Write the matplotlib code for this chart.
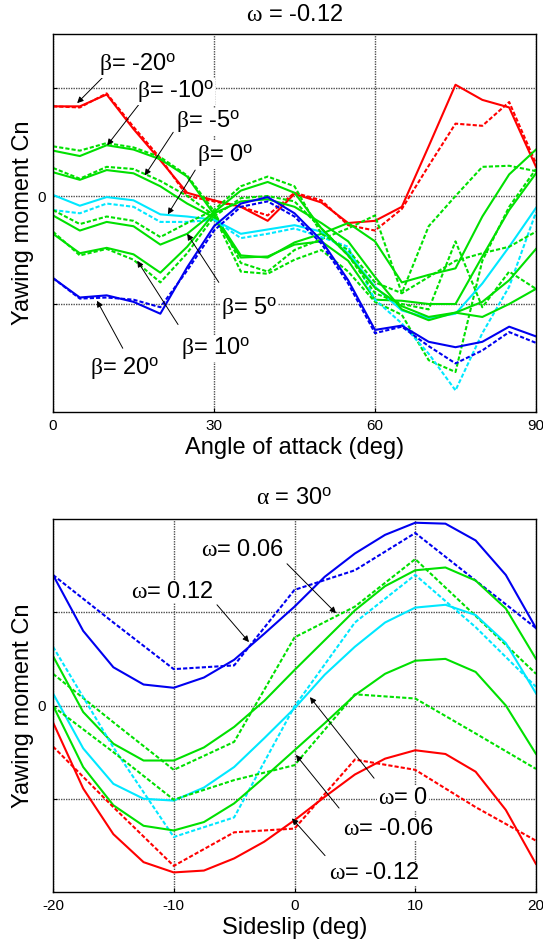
import numpy as np
import matplotlib
matplotlib.use('Agg')
import matplotlib.pyplot as plt

plt.rcParams['font.family'] = ['Liberation Sans', 'DejaVu Sans']
plt.rcParams['mathtext.fontset'] = 'custom'
plt.rcParams['mathtext.rm'] = 'Liberation Sans'
plt.rcParams['mathtext.it'] = 'Liberation Serif'
plt.rcParams['mathtext.bf'] = 'Liberation Sans:bold'
plt.rcParams['axes.unicode_minus'] = False

RED, GREEN, CYAN, BLUE = '#ff0000', '#00e000', '#00e8ff', '#0000f0'

# ---- top panel: omega = -0.12, Cn vs angle of attack ----
alpha = [0, 5, 10, 15, 20, 25, 30, 35, 40, 45, 50, 55, 60, 65, 70, 75, 80, 85, 90]

top_solid = {
    -20: [0.83, 0.83, 0.94, 0.62, 0.33, 0.03, -0.04, -0.10, -0.23, 0.02, -0.06, -0.25, -0.23, -0.10, 0.46, 1.03, 0.89, 0.82, 0.27],
    -10: [0.42, 0.37, 0.47, 0.43, 0.34, 0.18, -0.17, -0.55, -0.57, -0.43, -0.35, -0.25, -0.42, -0.80, -0.73, -0.67, -0.19, 0.20, 0.43],
    -5:  [0.22, 0.15, 0.24, 0.21, 0.09, -0.07, -0.20, -0.57, -0.56, -0.45, -0.42, -0.60, -0.96, -0.97, -1.00, -1.00, -0.56, -0.13, 0.21],
    0:   [0.01, -0.09, -0.01, -0.04, -0.17, -0.19, -0.22, -0.35, -0.31, -0.27, -0.33, -0.53, -0.84, -1.06, -1.13, -1.09, -0.81, -0.47, -0.11],
    5:   [-0.18, -0.32, -0.24, -0.28, -0.45, -0.35, -0.15, 0.05, 0.13, 0.03, -0.30, -0.55, -0.85, -1.02, -1.12, -1.08, -0.98, -0.78, -0.49],
    10:  [-0.35, -0.53, -0.48, -0.54, -0.71, -0.47, -0.16, -0.05, -0.03, -0.10, -0.25, -0.42, -0.75, -1.05, -1.15, -1.08, -1.12, -1.00, -0.86],
    20:  [-0.76, -0.94, -0.92, -0.98, -1.09, -0.66, -0.28, -0.07, -0.01, -0.16, -0.41, -0.78, -1.24, -1.20, -1.35, -1.40, -1.35, -1.21, -1.30],
}
top_dash = {
    -20: [0.83, 0.82, 0.95, 0.64, 0.35, 0.00, -0.05, -0.10, -0.18, 0.03, -0.04, -0.27, -0.32, -0.12, 0.28, 0.67, 0.65, 0.87, 0.30],
    -10: [0.46, 0.42, 0.49, 0.45, 0.36, 0.19, -0.14, -0.62, -0.70, -0.50, -0.40, -0.30, -0.18, -0.90, -0.28, 0.00, 0.27, 0.28, 0.23],
    -5:  [0.26, 0.16, 0.27, 0.25, 0.14, 0.00, -0.18, -0.70, -0.72, -0.59, -0.50, -0.70, -0.98, -1.10, -1.52, -1.63, -0.60, -0.10, 0.25],
    0:   [-0.13, -0.16, -0.07, -0.10, -0.24, -0.24, -0.22, -0.39, -0.35, -0.30, -0.38, -0.47, -0.96, -1.18, -1.46, -1.80, -1.27, -0.84, -0.15],
    5:   [-0.13, -0.26, -0.19, -0.23, -0.38, -0.25, -0.13, 0.09, 0.18, 0.09, -0.35, -0.50, -0.80, -0.90, -0.75, -0.60, -0.53, -0.47, -0.33],
    10:  [-0.33, -0.55, -0.49, -0.59, -0.80, -0.53, -0.19, -0.02, 0.00, -0.05, -0.30, -0.55, -0.90, -1.00, -1.05, -0.42, -1.03, -0.70, -0.86],
    20:  [-0.76, -0.95, -0.94, -0.96, -1.03, -0.69, -0.32, -0.10, -0.05, -0.19, -0.44, -0.81, -1.27, -1.21, -1.39, -1.55, -1.43, -1.26, -1.36],
}
top_colors = {-20: RED, -10: GREEN, -5: GREEN, 0: CYAN, 5: GREEN, 10: GREEN, 20: BLUE}

# label, text pos, arrow tail, arrow tip (data coords)
top_labels = [
    (-20, (15.8, 1.22), (9.3, 1.10), (4.5, 0.86)),
    (-10, (22.9, 0.97), (16.2, 0.86), (10.1, 0.47)),
    (-5,  (28.9, 0.69), (22.4, 0.59), (17.1, 0.19)),
    (0,   (32.0, 0.38), (26.5, 0.24), (21.4, -0.17)),
    (5,   (36.5, -1.04), (30.9, -0.80), (25.0, -0.35)),
    (10,  (30.4, -1.41), (23.3, -1.19), (15.7, -0.60)),
    (20,  (13.4, -1.59), (13.0, -1.41), (8.2, -0.97)),
]

# ---- bottom panel: alpha = 30 deg, Cn vs sideslip ----
beta_s = [-20, -17.5, -15, -12.5, -10, -7.5, -5, -2.5, 0, 2.5, 5, 7.5, 10, 12.5, 15, 17.5, 20]
beta_d = [-20, -15, -10, -5, 0, 5, 10, 15, 20]

bot_solid = {
    0.12:  [1.40, 0.80, 0.41, 0.225, 0.19, 0.30, 0.49, 0.77, 1.06, 1.38, 1.63, 1.83, 1.96, 1.95, 1.77, 1.40, 0.83],
    0.06:  [0.53, -0.07, -0.41, -0.59, -0.59, -0.45, -0.23, 0.05, 0.38, 0.70, 1.02, 1.28, 1.45, 1.48, 1.34, 1.04, 0.50],
    0.0:   [0.13, -0.46, -0.84, -1.00, -1.02, -0.88, -0.66, -0.35, -0.03, 0.33, 0.63, 0.89, 1.05, 1.08, 0.97, 0.67, 0.13],
    -0.06: [0.00, -0.66, -1.07, -1.29, -1.34, -1.25, -1.05, -0.77, -0.48, -0.19, 0.11, 0.34, 0.48, 0.50, 0.36, 0.00, -0.52],
    -0.12: [-0.18, -0.89, -1.38, -1.68, -1.79, -1.77, -1.64, -1.46, -1.23, -0.98, -0.74, -0.57, -0.48, -0.52, -0.71, -1.12, -1.70],
}
bot_dash = {
    0.12:  [1.40, 0.89, 0.39, 0.43, 1.24, 1.45, 1.85, 1.34, 0.83],
    0.06:  [0.34, -0.18, -0.69, -0.39, 0.73, 1.06, 1.57, 0.96, 0.34],
    0.0:   [0.63, -0.45, -1.41, -1.20, -0.01, 0.89, 1.40, 0.84, 0.20],
    -0.06: [-0.01, -0.50, -1.01, -0.80, -0.64, 0.12, 0.075, -0.30, -0.68],
    -0.12: [-0.44, -1.09, -1.72, -1.36, -1.32, -0.58, -0.69, -1.09, -1.45],
}
bot_colors = {0.12: BLUE, 0.06: GREEN, 0.0: CYAN, -0.06: GREEN, -0.12: RED}

bot_labels = [
    ('0.06',  (-4.35, 1.67), (-0.62, 1.52), (3.44, 0.99)),
    ('0.12',  (-10.15, 1.22), (-6.42, 1.08), (-3.77, 0.68)),
    ('0',     (8.99, -0.99), (6.59, -0.78), (1.28, 0.09)),
    ('-0.06', (7.75, -1.32), (3.69, -1.10), (0.12, -0.53)),
    ('-0.12', (6.59, -1.80), (2.53, -1.61), (-0.21, -1.21)),
]

W, H = 543, 947
fig = plt.figure(figsize=(W / 100, H / 100), dpi=100)
ax1 = fig.add_axes([53 / W, 1 - 412 / H, 483 / W, 378 / H])
ax2 = fig.add_axes([53 / W, 1 - 892 / H, 483 / W, 373 / H])

LW = 1.5
DASH = (2.0, 1.0)
FS = 17
box = dict(facecolor='white', edgecolor='none', pad=0.5)
arrow = dict(arrowstyle='-|>', color='black', lw=0.7, mutation_scale=9, shrinkA=0, shrinkB=0)


def style_axes(ax):
    ax.grid(True, color='#505050', linestyle=(0, (1, 0.8)), linewidth=1.0)
    ax.set_axisbelow(True)
    ax.tick_params(direction='in', length=3, width=0.8, labelsize=11, pad=5)
    for s in ax.spines.values():
        s.set_linewidth(1.0)
        s.set_zorder(5)


for b in top_solid:
    ax1.plot(alpha, top_solid[b], color=top_colors[b], lw=LW)
    ax1.plot(alpha, top_dash[b], color=top_colors[b], lw=LW, dashes=DASH)

for b, tpos, tail, tip in top_labels:
    ax1.annotate('', xy=tip, xytext=tail, arrowprops=arrow, zorder=6)
    ax1.text(*tpos, r'$\beta$= %d$^{\mathrm{o}}$' % b, fontsize=FS, ha='center', va='center',
             bbox=box, zorder=7)

ax1.set_xlim(0, 90)
ax1.set_ylim(-2, 1.5)
ax1.set_xticks([0, 30, 60, 90])
ax1.set_yticks([-1, 0, 1])
ax1.set_yticklabels(['', '0', ''])
style_axes(ax1)
ax1.get_xticklabels()[-1].set_x(89.5)
ax1.set_xlabel('Angle of attack (deg)', fontsize=FS, va='center')
ax1.xaxis.set_label_coords(0.5, -36 / 378)
ax1.set_ylabel('Yawing moment Cn', fontsize=FS, va='center')
ax1.yaxis.set_label_coords(-30 / 483, 0.5)
ax1.text(0.5, 1 + 19 / 378, r'$\omega$ = -0.12', transform=ax1.transAxes, fontsize=FS,
         ha='center', va='center')

for w in bot_solid:
    ax2.plot(beta_s, bot_solid[w], color=bot_colors[w], lw=LW)
    ax2.plot(beta_d, bot_dash[w], color=bot_colors[w], lw=LW, dashes=DASH)

for lab, tpos, tail, tip in bot_labels:
    ax2.annotate('', xy=tip, xytext=tail, arrowprops=arrow, zorder=6)
    ax2.text(*tpos, r'$\omega$= ' + lab, fontsize=FS, ha='center', va='center',
             bbox=box, zorder=7)

ax2.set_xlim(-20, 20)
ax2.set_ylim(-2, 2)
ax2.set_xticks([-20, -10, 0, 10, 20])
ax2.set_xticklabels(['-20', '-10', '0', '10', '20'])
ax2.set_yticks([-1, 0, 1])
ax2.set_yticklabels(['', '0', ''])
style_axes(ax2)
ax2.set_xlabel('Sideslip (deg)', fontsize=FS, va='center')
ax2.xaxis.set_label_coords(0.5, -36 / 373)
ax2.set_ylabel('Yawing moment Cn', fontsize=FS, va='center')
ax2.yaxis.set_label_coords(-30 / 483, 0.5)
ax2.text(0.5, 1 + 21 / 373, r'$\alpha$ = 30$^{\mathrm{o}}$', transform=ax2.transAxes, fontsize=FS,
         ha='center', va='center')

fig.savefig('out.png', dpi=100)
